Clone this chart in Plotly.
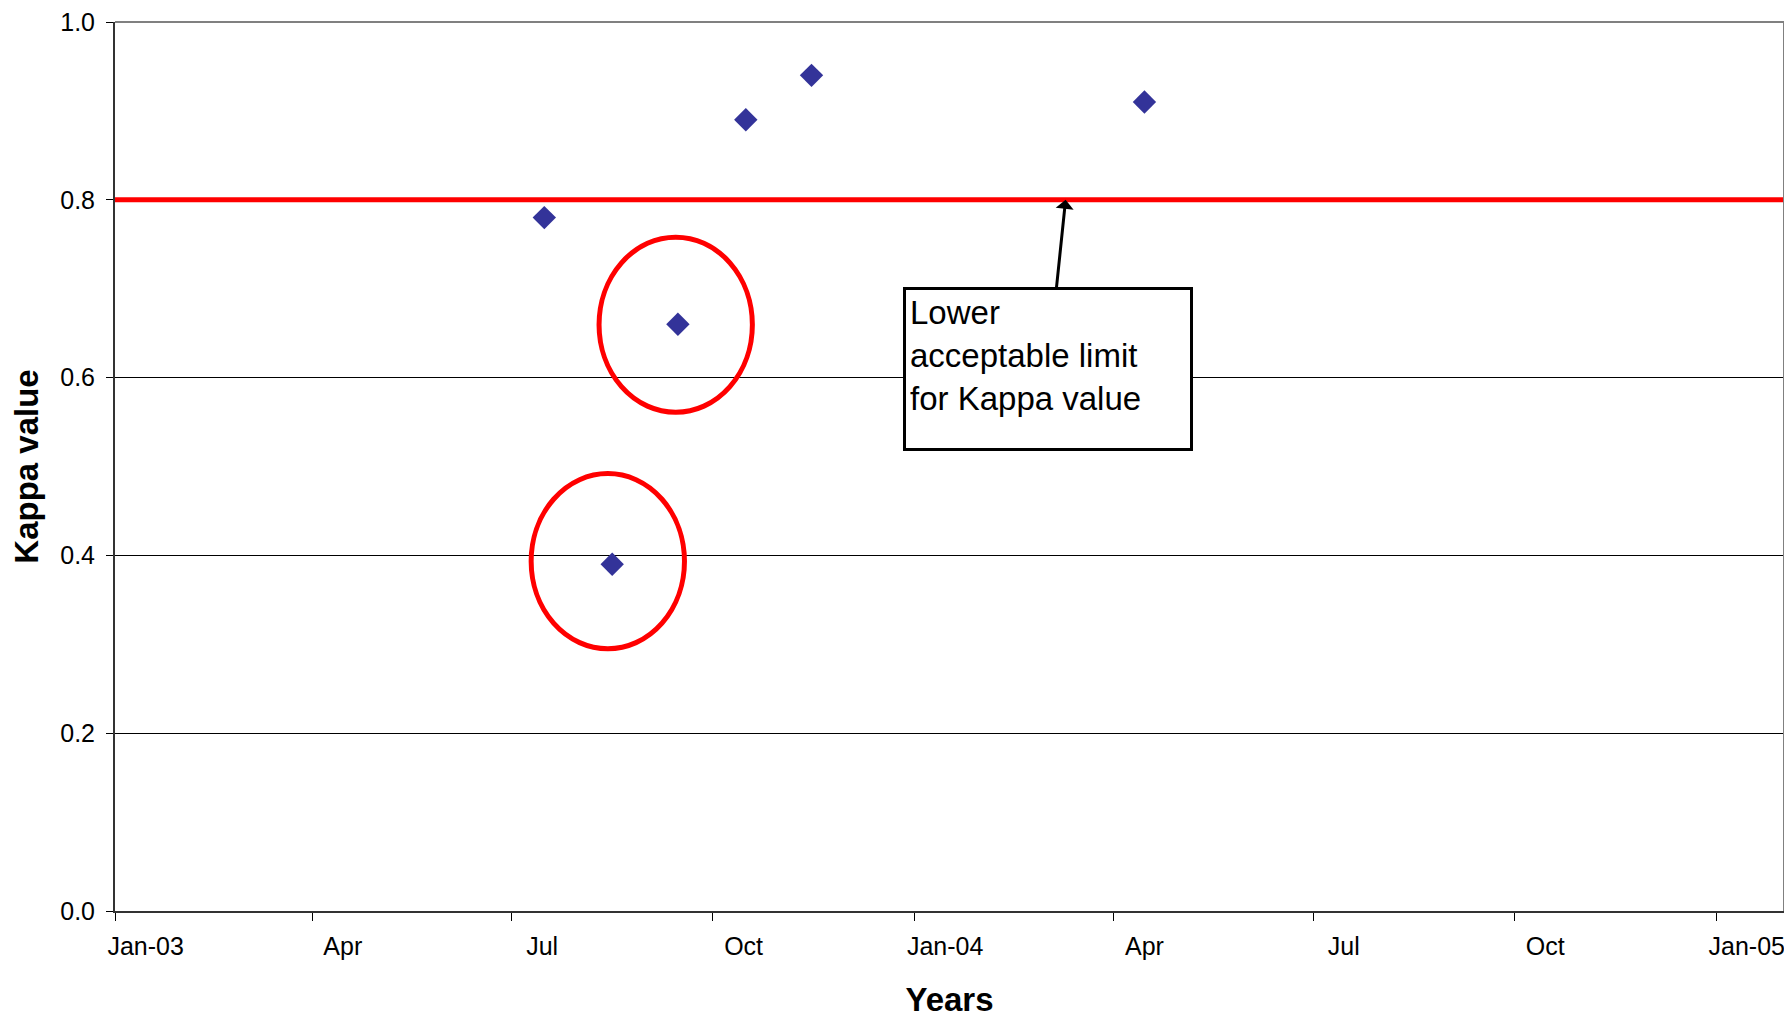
import plotly.graph_objects as go

# ---- data ----
dates = ["2003-07-16", "2003-08-16", "2003-09-15", "2003-10-16", "2003-11-15", "2004-04-15"]
kappa = [0.78, 0.39, 0.66, 0.89, 0.94, 0.91]
limit = 0.8

tick_dates = ["2003-01-15", "2003-04-15", "2003-07-15", "2003-10-15", "2004-01-15",
              "2004-04-15", "2004-07-15", "2004-10-15", "2005-01-15"]
tick_labels = ["Jan-03", "Apr", "Jul", "Oct", "Jan-04", "Apr", "Jul", "Oct", "Jan-05"]
x_range = ["2003-01-01", "2005-02-01"]

# highlighted (circled) points: date span and value span of each ellipse
circle_x = [("2003-08-10", "2003-10-19"), ("2003-07-10", "2003-09-18")]
circle_y = [(0.561, 0.758), (0.295, 0.492)]

note_text = "Lower<br>acceptable limit<br>for Kappa value"
note_tip_x = "2004-03-10"
note_box_x = "2004-03-02"
note_box_y = 0.61

FONT = "Liberation Sans, Arial, sans-serif"

fig = go.Figure()
fig.add_trace(go.Scatter(
    x=dates, y=kappa, mode="markers",
    marker=dict(symbol="diamond", size=18, color="#333399"),
    showlegend=False, hoverinfo="x+y",
))

# limit line
fig.add_shape(type="line", xref="paper", x0=0, x1=1, yref="y", y0=limit, y1=limit,
              line=dict(color="#FF0000", width=5))

# ellipses
for (x0, x1), (y0, y1) in zip(circle_x, circle_y):
    fig.add_shape(type="circle", xref="x", yref="y", x0=x0, x1=x1, y0=y0, y1=y1,
                  line=dict(color="#FF0000", width=5))

# top and right border of plot
fig.add_shape(type="line", xref="paper", yref="paper", x0=0, x1=1, y0=1, y1=1,
              line=dict(color="#808080", width=2))
fig.add_shape(type="line", xref="paper", yref="paper", x0=1, x1=1, y0=0, y1=1,
              line=dict(color="#808080", width=2))

fig.add_annotation(
    x=note_tip_x, y=limit, xref="x", yref="y",
    ax=note_box_x, ay=note_box_y, axref="x", ayref="y",
    text=note_text, showarrow=True, arrowhead=1, arrowsize=1, arrowwidth=3,
    arrowcolor="black", standoff=0,
    align="left", valign="top", width=276, height=150,
    bordercolor="black", borderwidth=3, borderpad=4, bgcolor="white",
    font=dict(family=FONT, size=33, color="black"),
)

fig.update_layout(
    width=1784, height=1010,
    margin=dict(l=107, r=8, t=14, b=107),
    paper_bgcolor="white", plot_bgcolor="white",
    font=dict(family=FONT, color="black"),
    xaxis=dict(
        type="date", range=x_range, automargin=False,
        tickmode="array", tickvals=tick_dates, ticktext=tick_labels,
        ticks="", ticklen=0, ticklabelstandoff=12,
        tickfont=dict(size=25, color="black"),
        minor=dict(ticks="outside", dtick="M3", tick0="2003-01-01", ticklen=8,
                   tickwidth=1, tickcolor="black", showgrid=False),
        showgrid=False, showline=True, linecolor="#333333", linewidth=2,
        zeroline=False,
        title=dict(text="<b>Years</b>", font=dict(size=33, color="black"), standoff=30),
    ),
    yaxis=dict(
        range=[0, 1], dtick=0.2, tickformat=".1f", automargin=False,
        ticks="outside", ticklen=7, tickcolor="black", tickwidth=1,
        ticklabelstandoff=6, ticklabeloverflow="allow",
        tickfont=dict(size=25, color="black"),
        showgrid=True, gridcolor="black", gridwidth=1,
        showline=True, linecolor="#333333", linewidth=2, zeroline=False,
        title=dict(text="<b>Kappa value</b>", font=dict(size=33, color="black"), standoff=16),
    ),
)

fig.write_html("out.html")
